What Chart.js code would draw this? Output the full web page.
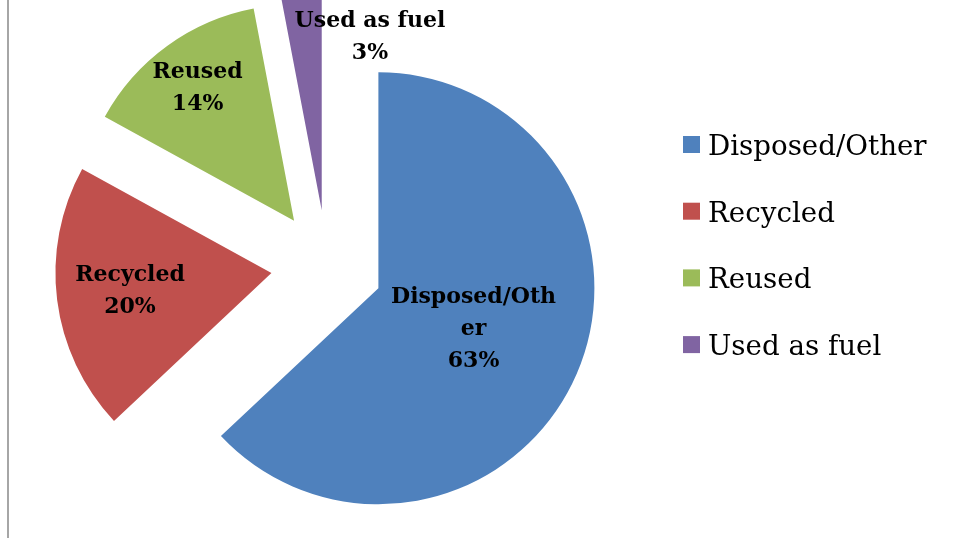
<!DOCTYPE html>
<html lang="en">
<head>
  <meta charset="UTF-8">
  <title>Waste breakdown</title>
  <style>
    html, body { margin: 0; padding: 0; background: #fff; }
    .wrap { position: relative; width: 956px; height: 538px; overflow: hidden; }
    .edge { position: absolute; left: 7px; top: 0; width: 2px; height: 538px; background: #a6a6a6; }
    canvas { position: absolute; left: 0; top: 0; }
  </style>
</head>
<body>
  <div class="wrap">
    <canvas id="myChart" width="956" height="538"></canvas>
    <div class="edge"></div>
  </div>

  <script src="https://cdn.jsdelivr.net/npm/chart.js"></script>
  <script>
    // chart data
    const categories = ['Disposed/Other', 'Recycled', 'Reused', 'Used as fuel'];
    const shares = [63, 20, 14, 3];
    const colors = ['#4F81BD', '#C0504D', '#9BBB59', '#8064A2'];
    // how Excel wrapped the data labels
    const labelLines = [['Disposed/Oth', 'er'], ['Recycled'], ['Reused'], ['Used as fuel']];

    const GAP = 56;      // explode distance, px
    const RADIUS = 216;
    // where each data label sits: fraction of radius, and angle shift (deg)
    const labelFrac = [0.48, 0.66, 0.76, 0.83];
    const labelShift = [0, 0, 0, 21];

    // draw each slice pulled out along its middle angle
    const explode = {
      id: 'explode',
      beforeDatasetDraw(chart, args) {
        const ctx = chart.ctx;
        args.meta.data.forEach(arc => {
          const mid = (arc.startAngle + arc.endAngle) / 2;
          ctx.save();
          ctx.translate(Math.cos(mid) * GAP, Math.sin(mid) * GAP);
          arc.draw(ctx, chart.chartArea);
          ctx.restore();
        });
        return false;
      }
    };

    const dataLabels = {
      id: 'dataLabels',
      afterDatasetsDraw(chart) {
        const ctx = chart.ctx;
        const meta = chart.getDatasetMeta(0);
        ctx.save();
        ctx.font = 'bold 22px "DejaVu Serif"';
        ctx.fillStyle = '#000';
        ctx.textAlign = 'center';
        ctx.textBaseline = 'middle';
        meta.data.forEach((arc, i) => {
          const mid = (arc.startAngle + arc.endAngle) / 2;
          const vx = arc.x + Math.cos(mid) * GAP;
          const vy = arc.y + Math.sin(mid) * GAP;
          const a = mid + labelShift[i] * Math.PI / 180;
          const r = arc.outerRadius * labelFrac[i];
          const cx = vx + Math.cos(a) * r;
          const cy = vy + Math.sin(a) * r;
          const lines = labelLines[i].concat([shares[i] + '%']);
          const lh = 32;
          const top = cy - (lines.length - 1) * lh / 2;
          lines.forEach((t, k) => ctx.fillText(t, cx, top + k * lh));
        });
        ctx.restore();
      }
    };

    const sideLegend = {
      id: 'sideLegend',
      afterDraw(chart) {
        const ctx = chart.ctx;
        ctx.save();
        ctx.font = '27.7px "DejaVu Serif"';
        ctx.textBaseline = 'alphabetic';
        categories.forEach((c, i) => {
          const base = 155 + i * 66.7;
          ctx.fillStyle = colors[i];
          ctx.fillRect(683, base - 19, 17, 17);
          ctx.fillStyle = '#000';
          ctx.fillText(c, 708, base);
        });
        ctx.restore();
      }
    };

    new Chart(document.getElementById('myChart'), {
      type: 'pie',
      data: {
        labels: categories,
        datasets: [{
          data: shares,
          backgroundColor: colors,
          borderWidth: 0,
          radius: RADIUS,
          clip: false
        }]
      },
      options: {
        responsive: false,
        animation: false,
        devicePixelRatio: 1,
        layout: { padding: { left: 0, right: 302, top: 0, bottom: 6 } },
        plugins: {
          legend: { display: false },
          tooltip: { enabled: false }
        }
      },
      plugins: [explode, dataLabels, sideLegend]
    });
  </script>
</body>
</html>
